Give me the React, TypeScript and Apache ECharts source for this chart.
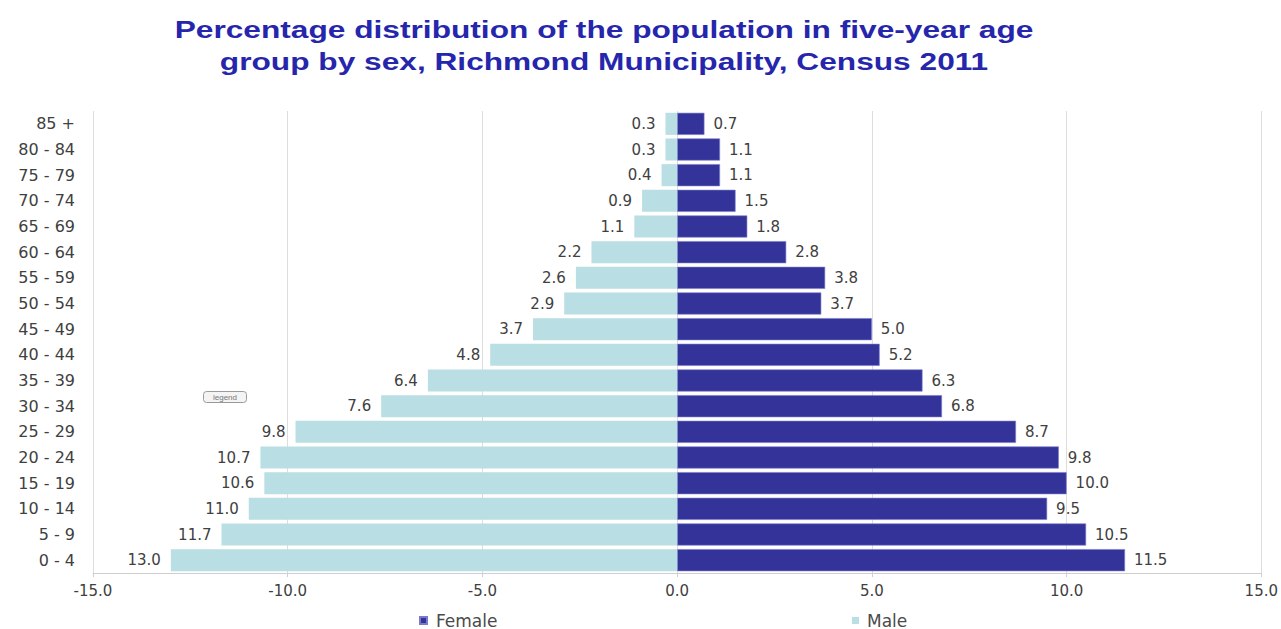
import React, { useEffect, useRef } from "react";
import * as echarts from "echarts";

// Age groups, bottom to top
const ageGroups = [
  "0 - 4", "5 - 9", "10 - 14", "15 - 19", "20 - 24", "25 - 29", "30 - 34", "35 - 39",
  "40 - 44", "45 - 49", "50 - 54", "55 - 59", "60 - 64", "65 - 69", "70 - 74", "75 - 79",
  "80 - 84", "85 +",
];

// Percent of population (same order as ageGroups)
const maleValues = [13.0, 11.7, 11.0, 10.6, 10.7, 9.8, 7.6, 6.4, 4.8, 3.7, 2.9, 2.6, 2.2, 1.1, 0.9, 0.4, 0.3, 0.3];
const femaleValues = [11.5, 10.5, 9.5, 10.0, 9.8, 8.7, 6.8, 6.3, 5.2, 5.0, 3.7, 3.8, 2.8, 1.8, 1.5, 1.1, 1.1, 0.7];

const xTicks = { min: -15, max: 15, interval: 5 };

const titleLines = [
  "Percentage distribution of the population in five-year age",
  "group by sex, Richmond Municipality, Census 2011",
];

const TITLE_FONT = "'Liberation Sans', Arial, sans-serif";
const FONT = "'DejaVu Sans', Verdana, sans-serif";
const TEXT_COLOR = "#404040";

export default function App() {
  const ref = useRef<HTMLDivElement>(null);

  useEffect(() => {
    if (!ref.current) return;
    const chart = echarts.init(ref.current, undefined, { renderer: "svg" });
    const legendText = { fontFamily: FONT, fontSize: 17, color: "#4a4a4a" };
    chart.setOption({
      animation: false,
      backgroundColor: "#ffffff",
      textStyle: { fontFamily: FONT },
      legend: [
        {
          data: ["Female"],
          left: 419,
          top: 612,
          itemWidth: 7,
          itemHeight: 7,
          icon: "rect",
          padding: 0,
          textStyle: { ...legendText, padding: [0, 0, 0, 4] },
        },
        {
          data: ["Male"],
          left: 852,
          top: 612,
          itemWidth: 7,
          itemHeight: 7,
          icon: "rect",
          padding: 0,
          textStyle: { ...legendText, padding: [0, 0, 0, 3] },
        },
      ],
      grid: { left: 93, right: 19, top: 111, bottom: 56, containLabel: false },
      xAxis: {
        type: "value",
        min: xTicks.min,
        max: xTicks.max,
        interval: xTicks.interval,
        axisLine: { show: true, lineStyle: { color: "#cfcfcf" } },
        axisTick: { show: true, length: 4, lineStyle: { color: "#cfcfcf" } },
        axisLabel: {
          fontFamily: FONT,
          fontSize: 15,
          color: TEXT_COLOR,
          margin: 10,
          formatter: (v: number) => v.toFixed(1),
        },
        splitLine: { show: true, lineStyle: { color: "#dddddd", width: 1 } },
      },
      yAxis: {
        type: "category",
        data: ageGroups,
        axisLine: { show: false },
        axisTick: { show: false },
        axisLabel: { fontFamily: FONT, fontSize: 16, color: TEXT_COLOR, margin: 18 },
      },
      graphic: [
        ...titleLines.map((line, i) => ({
          type: "text",
          x: 604,
          y: 30 + i * 32,
          scaleX: 1.32,
          style: {
            x: 0,
            y: 0,
            text: line,
            align: "center",
            verticalAlign: "middle",
            fontFamily: TITLE_FONT,
            fontSize: 24,
            fontWeight: "bold",
            fill: "#2626ad",
          },
        })),
        {
          type: "group",
          left: 203,
          top: 391,
          children: [
            {
              type: "rect",
              shape: { x: 0, y: 0, width: 43, height: 11, r: 3 },
              style: { fill: "#f4f4f4", stroke: "#9a9a9a", lineWidth: 1 },
            },
            {
              type: "text",
              style: {
                x: 21.5,
                y: 5.5,
                text: "legend",
                align: "center",
                verticalAlign: "middle",
                fontSize: 8,
                fontFamily: TITLE_FONT,
                fill: "#777",
              },
            },
          ],
        },
      ],
      series: [
        {
          name: "Female",
          type: "bar",
          stack: "pop",
          barCategoryGap: "14%",
          data: femaleValues,
          itemStyle: { color: "#333399", borderColor: "#7a7acc", borderWidth: 0.6 },
          label: {
            show: true,
            position: "right",
            distance: 9,
            fontFamily: FONT,
            fontSize: 15,
            color: TEXT_COLOR,
            formatter: (p: any) => Number(p.value).toFixed(1),
          },
        },
        {
          name: "Male",
          type: "bar",
          stack: "pop",
          barCategoryGap: "14%",
          data: maleValues.map((v) => -v),
          itemStyle: { color: "#b9dee3" },
          label: {
            show: true,
            position: "left",
            distance: 10,
            fontFamily: FONT,
            fontSize: 15,
            color: TEXT_COLOR,
            formatter: (p: any) => Math.abs(Number(p.value)).toFixed(1),
          },
        },
      ],
    });
    return () => chart.dispose();
  }, []);

  return (
    <div
      ref={ref}
      style={{ position: "absolute", left: 0, top: 0, width: 1281, height: 629 }}
    />
  );
}
